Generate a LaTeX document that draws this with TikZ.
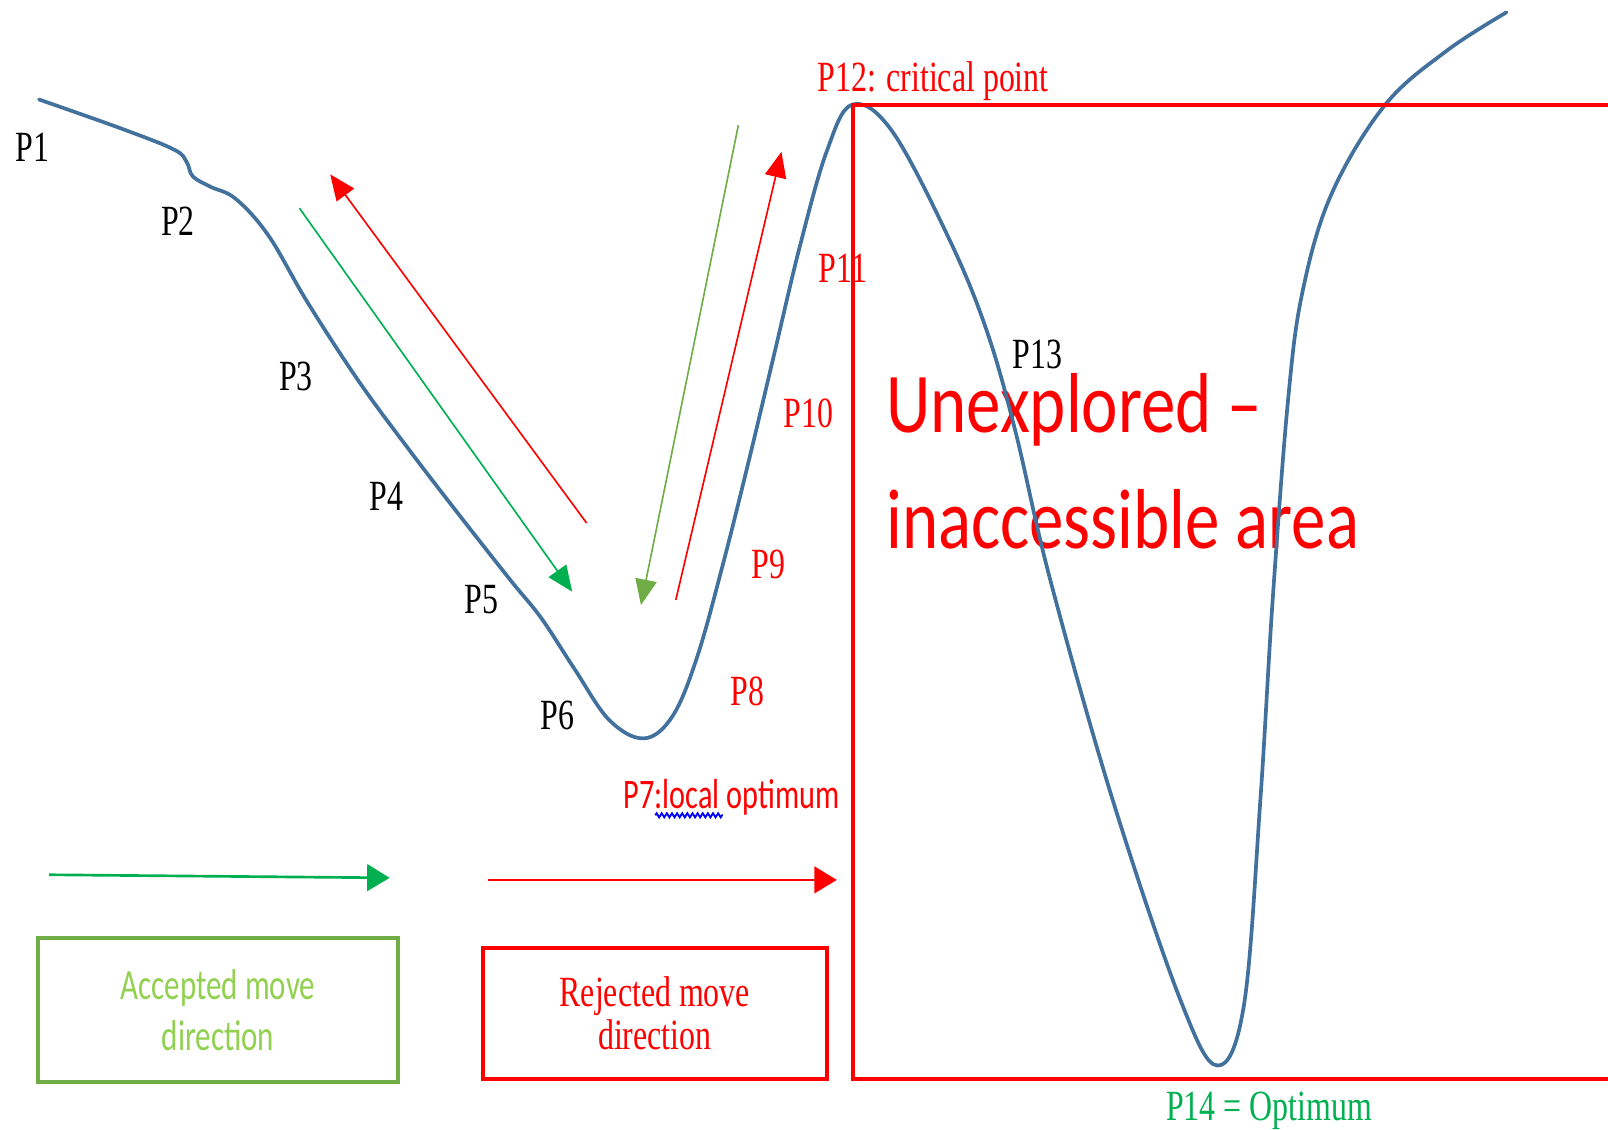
\documentclass[tikz,border=0pt]{standalone}
\usepackage{fontspec}
\usetikzlibrary{arrows.meta,decorations.pathmorphing}
\newfontfamily\tnr[FakeStretch=0.74]{Liberation Serif}
\newfontfamily\calib[FakeStretch=0.72]{Carlito}
\newfontfamily\bigcalib[FakeStretch=0.81]{Carlito}
\definecolor{curveblue}{RGB}{65,113,156}
\definecolor{accgreen}{RGB}{0,176,80}
\definecolor{olive}{RGB}{112,173,71}
\definecolor{lightgreen}{RGB}{146,208,80}
\definecolor{pred}{RGB}{255,0,0}
\tikzset{
  lbl/.style={inner sep=0pt, anchor=base west, font=\tnr\fontsize{42}{48}\selectfont},
  redlbl/.style={lbl, text=pred},
  movearrow/.style={line width=1.6pt, -{Triangle[length=25pt,width=21pt]}},
  legendarrow/.style={line width=2.6pt, -{Triangle[length=22pt,width=26pt]}},
  legendbox/.style={draw, line width=4pt, inner sep=0pt, align=center},
}
\begin{document}
\begin{tikzpicture}[x=1pt,y=-1pt]
\useasboundingbox (0,0) rectangle (1568,1101);
% point labels
\node[lbl] (p1) at (15,157) {P1};
\node[lbl] (p2) at (157,230) {P2};
\node[lbl] (p3) at (272,381) {P3};
\node[lbl] (p4) at (360,498) {P4};
\node[lbl] (p5) at (453,598) {P5};
\node[lbl] (p6) at (527,711) {P6};
\node[redlbl] (p8) at (712,688) {P8};
\node[redlbl] (p9) at (733,564) {P9};
\node[redlbl] (p10) at (764,417) {P10};
\node[redlbl] (p11) at (798,275) {P11};
\node[redlbl] (p12) at (797,89) {P12: critical point};
\node[lbl] (p13) at (987,359) {P13};
\node[lbl, text=accgreen] (p14) at (1137,1093) {P14 = Optimum};
\node[inner sep=0pt, anchor=base west, text=pred, font=\calib\fontsize{41}{48}\selectfont] (p7) at (608,788) {P7:local optimum};
\draw[blue, line width=1.8pt, decorate, decoration={zigzag, amplitude=2pt, segment length=5pt}] (639,795) -- (705,795);
\node[inner sep=0pt, anchor=base west, text=pred, font=\bigcalib\fontsize{83}{100}\selectfont] (un1) at (864,422) {Unexplored –};
\node[inner sep=0pt, anchor=base west, text=pred, font=\bigcalib\fontsize{83}{100}\selectfont] (un2) at (864,535) {inaccessible area};
% the landscape curve
\draw[curveblue, line width=3.6pt, line cap=round, line join=round] plot[smooth, tension=0.6] coordinates {
(38,97) (120,126) (170,146) (182,158) (188,172) (205,182) (230,194) (262,230) (300,295) (350,372) (400,440) (450,505) (498,566) (528,603) (560,652) (594,702) (628,720) (656,698) (680,640) (705,550) (730,450) (755,345) (780,240) (806,148) (831,102) (870,128) (926,234) (962,322) (990,420) (1024,565) (1085,780) (1151,975) (1187,1039) (1213,980) (1229,780) (1241,585) (1256,390) (1270,285) (1298,190) (1350,103) (1410,50) (1469,12)};
% unexplored area frame
\draw[pred, line width=4pt, line join=miter] (1568,102) -- (832,102) -- (832,1052) -- (1568,1052);
% move arrows
\coordinate (a1s) at (292,203); \coordinate (a1e) at (558,577);
\coordinate (a2s) at (572,510); \coordinate (a2e) at (322,170);
\coordinate (a3s) at (720,122); \coordinate (a3e) at (625,590);
\coordinate (a4s) at (659,585); \coordinate (a4e) at (762,148);
\draw[movearrow, accgreen] (a1s) -- (a1e);
\draw[movearrow, pred] (a2s) -- (a2e);
\draw[movearrow, olive] (a3s) -- (a3e);
\draw[movearrow, pred] (a4s) -- (a4e);
% legend
\coordinate (l1s) at (48,853); \coordinate (l1e) at (380,856);
\coordinate (l2s) at (476,858); \coordinate (l2e) at (816,858);
\draw[legendarrow, accgreen] (l1s) -- (l1e);
\draw[legendarrow, pred] (l2s) -- (l2e);
\node[legendbox, draw=olive, text=lightgreen, minimum width=351pt, minimum height=140pt, font=\calib\fontsize{42}{50}\selectfont] (acc) at (212.5,985) {Accepted move\\direction};
\node[legendbox, draw=pred, text=pred, minimum width=335pt, minimum height=128pt, font=\tnr\fontsize{42}{42}\selectfont] (rej) at (638.5,988) {Rejected move\\direction};
\end{tikzpicture}
\end{document}
